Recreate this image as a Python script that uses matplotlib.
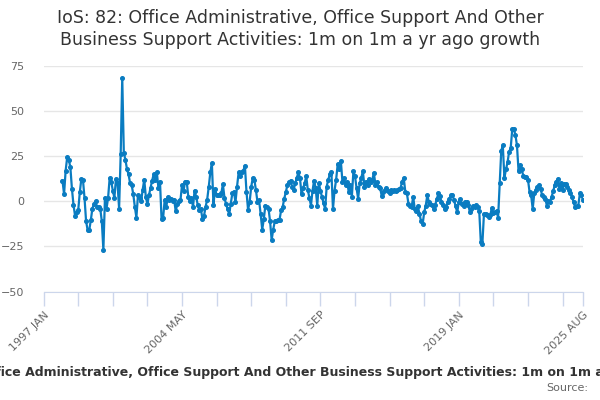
import numpy as np
import pandas as pd
import matplotlib
matplotlib.use("Agg")
import matplotlib.pyplot as plt

# monthly categories on the axis, 1997 JAN .. 2025 AUG
months = pd.period_range("1997-01", "2025-08", freq="M")
month_labels = [p.strftime("%Y %b").upper() for p in months]

# growth values (%), 1998 JAN onwards (first year has no year-ago base)
growth_1998_2005 = [
    11.5, 4, 17, 24.5, 23, 19, 7, -2, -8, -6, -5, 5, 12.5, 12, 2, -11, -16, -16,
    -10.5, -4, -1.5, 0, -3, -3, -4, -11, -27,
    2, -4, 2, 13, 11, 6, 2, 12.5, 10, -4, 26, 68.5,
    27, 23, 18, 15, 10, 9, 4, -3, -9, 3.5, 2, 0, 6.5, 12, 2.5, -1.5, 3.5, 7.5,
    11.5, 15, 12, 16, 7.5, 11, -10, -9, 1, -3, 2.5, 0.5, 1.5, 0, 1, -5.5, -1.5,
    0, 0.5, 9, 6, 11, 11, 2.5, 0, 2, -3, 6, 2.5, -2, -5,
]
growth_2005_2015 = [
    -4, -10, -8, -3, 1, 8, 16, 21, -2, 7, 3.4, 3.4, 3.6, 4.5, 9.5, 2, -1.5,
    -4.2, -7, -1.3, 4.4, 5.3, -0.4, 8.2, 16, 14, 16, 17, 19.7, 5.3, -4.6, -0.4,
    8, 13, 12, 6.3, -0.4, 0.6, -7, -15.6, -10, -2.3, -3.2, -4, -11, -21.4,
    -15.6, -11, -11, -10.6, -10.3, -5, -3.2, 1.5, 5, 9, 10.7, 11.5, 8.2, 6.3,
    10, 13, 16, 13, 4, 7.3, 10, 14, 6.3, 2, -2.3, 6, 11.5, 7.3, -2.3, 10, 6,
    2.5, -1, -4.2, 8.2, 12, 15, 16, -4.2, 6, 12, 20.6, 17.7, 22.5, 11, 13, 8.8,
    11, 5.3, 9.2, 2.5, 16.8, 14, 7.3, 1.5, 10, 13, 16.8, 8.2, 11, 9.2, 12.6,
    11, 12, 15.8, 9.2, 10.7, 8, 7.3, 3, 5.3, 6.5, 7.6, 5.7, 4.4,
]
growth_2015_2025 = [
    6.3, 5.7, 6.1, 5.9, 6.3, 6.7, 7.6, 11, 13, 5.3, 4.4, -1.3, -2.7, -3.2, 2.5,
    -4.2, -5.2, -2.7, -7, -10.9, -12.8, -6.1, -2.3, 3.4, -0.4, -1.3, -1.9, -4.2,
    -1.9, 1.1, 4.4, 3, -0.4, -1.9, -4.2, -3.2, -0.4, 1.5, 3.4, 3.8, 0.6, -2.7,
    -6.1, -0.4, 1.1, -1.3, -2.3, -0.4, -0.4, -1.9, -5.7, -4.2, -2.7, -3.2, -1.9,
    -3.2, -5.2, -22.5, -23.5, -7, -7, -7.6, -8.4, -7.6, -3.8, -6.5, -6.1, -5.2,
    -9, 10, 28, 31, 13, 17.7, 21.6, 27.5, 29.4, 40, 40, 36.8, 31, 16.8, 20,
    17.7, 14.3, 13.5, 13.4, 12, 5.3, 3.4, -4.2, 4.4, 6.3, 8.2, 9, 7, 3.4, 2.5,
    1.5, -2.3, 0, -0.4, 2.5, 5.5, 9, 11, 12.5, 7, 10, 6.3, 9.5, 9.5, 8.2, 6.3,
    4.8, 2.5, -0.4, -3.2, -2.7, -2.3, 4.4, 3.4, 0.5,
]

growth = [np.nan] * 12 + growth_1998_2005 + growth_2005_2015 + growth_2015_2025

y_ticks = [-50, -25, 0, 25, 50, 75]
labelled_months = ["1997 JAN", "2004 MAY", "2011 SEP", "2019 JAN", "2025 AUG"]

title = ("IoS: 82: Office Administrative, Office Support And Other "
         "Business Support Activities: 1m on 1m a yr ago growth")

x = np.arange(len(month_labels))

fig = plt.figure(figsize=(6, 4), dpi=100)
ax = fig.add_axes([0.0727, 0.271, 0.899, 0.564])

ax.plot(x[:len(growth)], growth, color="#0a7cc1", linewidth=1.6,
        marker="o", markersize=2.6, zorder=3)

ax.set_xlim(0, len(month_labels) - 1)
ax.set_ylim(-50, 75)
ax.set_yticks(y_ticks)
ax.grid(axis="y", color="#e6e6e6", linewidth=1)
ax.set_axisbelow(True)

# x ticks every 22 months plus the last month
tick_pos = list(range(0, len(month_labels), 22))
if tick_pos[-1] != len(month_labels) - 1:
    tick_pos.append(len(month_labels) - 1)
ax.set_xticks(tick_pos)
ax.set_xticklabels([month_labels[p] if month_labels[p] in labelled_months else ""
                    for p in tick_pos],
                   rotation=45, ha="right", va="top", rotation_mode="anchor")

for side in ["top", "right", "left"]:
    ax.spines[side].set_visible(False)
ax.spines["bottom"].set_color("#ccd6eb")
ax.tick_params(axis="x", colors="#ccd6eb", length=10, width=1, labelcolor="#666666",
               labelsize=8, pad=3)
ax.tick_params(axis="y", length=0, labelcolor="#666666", labelsize=8, pad=14)

fig.text(0.5, 0.955, "IoS: 82: Office Administrative, Office Support And Other",
         ha="center", va="center", fontsize=12.5, color="#333333")
fig.text(0.5, 0.9, "Business Support Activities: 1m on 1m a yr ago growth",
         ha="center", va="center", fontsize=12.5, color="#333333")

# caption is wider than the figure, as in the original
fig.text(0.523, 0.068, title, ha="center", va="center", fontsize=9,
         fontweight="bold", color="#333333")
fig.text(0.98, 0.03, "Source:", ha="right", va="center", fontsize=8,
         color="#666666")

fig.savefig("out.png", dpi=100)
